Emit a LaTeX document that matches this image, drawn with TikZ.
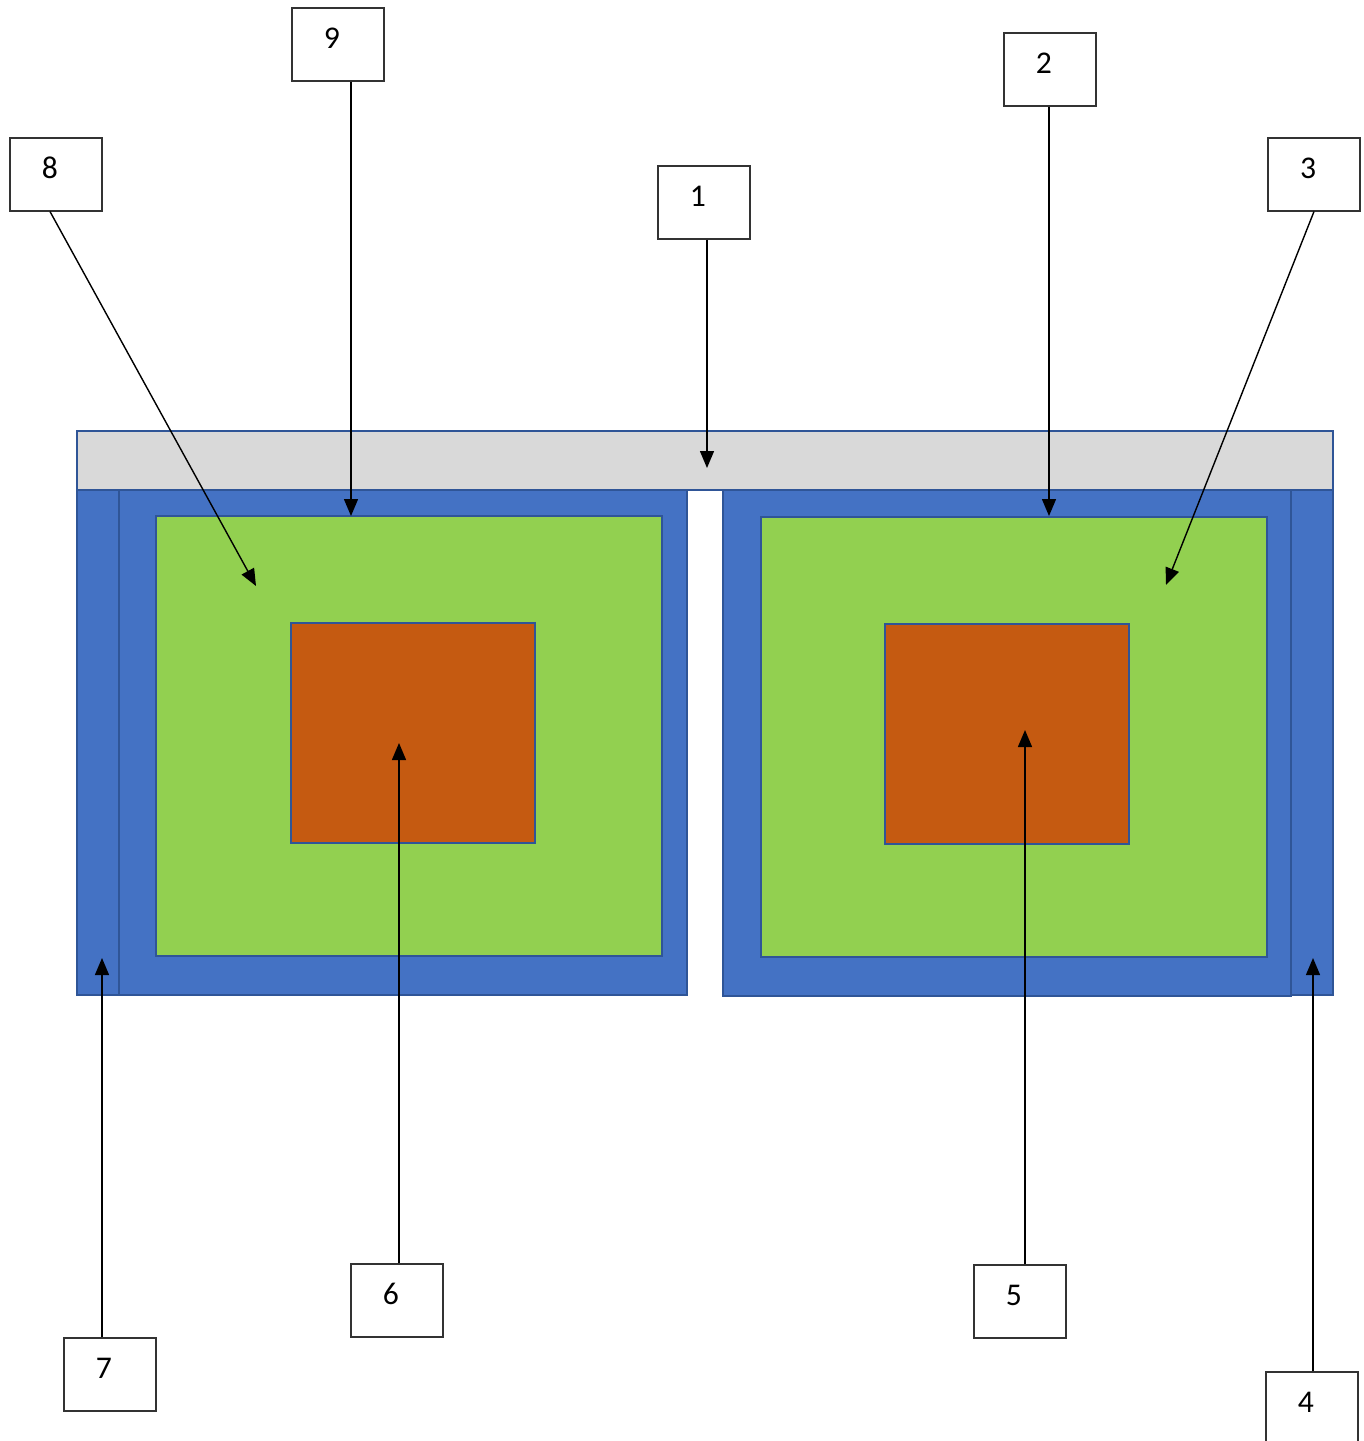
\documentclass[tikz,border=0pt]{standalone}
\usepackage{fontspec}
\setmainfont{Carlito}
\usetikzlibrary{arrows.meta, calc}

\definecolor{barGray}{HTML}{D9D9D9}
\definecolor{frameBlue}{HTML}{4472C4}
\definecolor{edgeBlue}{HTML}{2F5597}
\definecolor{padGreen}{HTML}{92D050}
\definecolor{coreOrange}{HTML}{C55A11}

\begin{document}
\begin{tikzpicture}[x=0.02cm, y=-0.02cm,
    part/.style={draw=edgeBlue, line width=1.4pt},
    lbl/.style={draw=black!80, line width=0.6pt, fill=white, rectangle,
        minimum width=1.84cm, minimum height=1.46cm, inner sep=0pt,
        text height=0.52cm, text depth=0.38cm, font=\fontsize{18}{21}\selectfont,
        execute at begin node=\hspace*{-0.24cm}},
    pointer/.style={line width=0.8pt, -{Triangle[length=0.34cm, width=0.28cm]}}]
    \useasboundingbox (0,0) rectangle (1364,1441);

    % Side strips
    \filldraw[part, fill=frameBlue] (77,490) rectangle (119,995);
    \filldraw[part, fill=frameBlue] (1291,489) rectangle (1333,995);

    % Frames
    \filldraw[part, fill=frameBlue] (119,490) rectangle (687,995);
    \filldraw[part, fill=frameBlue] (723,490) rectangle (1291,996);

    % Top bar
    \filldraw[part, fill=barGray] (77,431) rectangle (1333,490);

    % Green plates
    \filldraw[part, fill=padGreen] (156,516) rectangle (662,956);
    \filldraw[part, fill=padGreen] (761,517) rectangle (1267,957);

    % Orange cores
    \filldraw[part, fill=coreOrange] (291,623) rectangle (535,843);
    \filldraw[part, fill=coreOrange] (885,624) rectangle (1129,844);

    % Arrow tips
    \coordinate (tip1) at (707,468);
    \coordinate (tip2) at (1049,516);
    \coordinate (tip3) at (1166,585);
    \coordinate (tip4) at (1313,958);
    \coordinate (tip5) at (1025,730);
    \coordinate (tip6) at (399,743);
    \coordinate (tip7) at (102,958);
    \coordinate (tip8) at (256,586);
    \coordinate (tip9) at (351,516);

    % Labels
    \node[lbl] (lab1) at (704,202.5) {1};
    \node[lbl] (lab2) at (1050,69.5) {2};
    \node[lbl] (lab3) at (1314,174.5) {3};
    \node[lbl] (lab4) at (1312,1408.5) {4};
    \node[lbl] (lab5) at (1020,1301.5) {5};
    \node[lbl] (lab6) at (397,1300.5) {6};
    \node[lbl] (lab7) at (110,1374.5) {7};
    \node[lbl] (lab8) at (56,174.5) {8};
    \node[lbl] (lab9) at (338,44.5) {9};

    \draw[pointer] (lab1.south -| tip1) -- (tip1);
    \draw[pointer] (lab2.south -| tip2) -- (tip2);
    \draw[pointer] (lab3.south) -- (tip3);
    \draw[pointer] (lab4.north -| tip4) -- (tip4);
    \draw[pointer] (lab5.north -| tip5) -- (tip5);
    \draw[pointer] (lab6.north -| tip6) -- (tip6);
    \draw[pointer] (lab7.north -| tip7) -- (tip7);
    \draw[pointer] ($(lab8.south)+(-6,0)$) -- (tip8);
    \draw[pointer] (lab9.south -| tip9) -- (tip9);
\end{tikzpicture}
\end{document}
